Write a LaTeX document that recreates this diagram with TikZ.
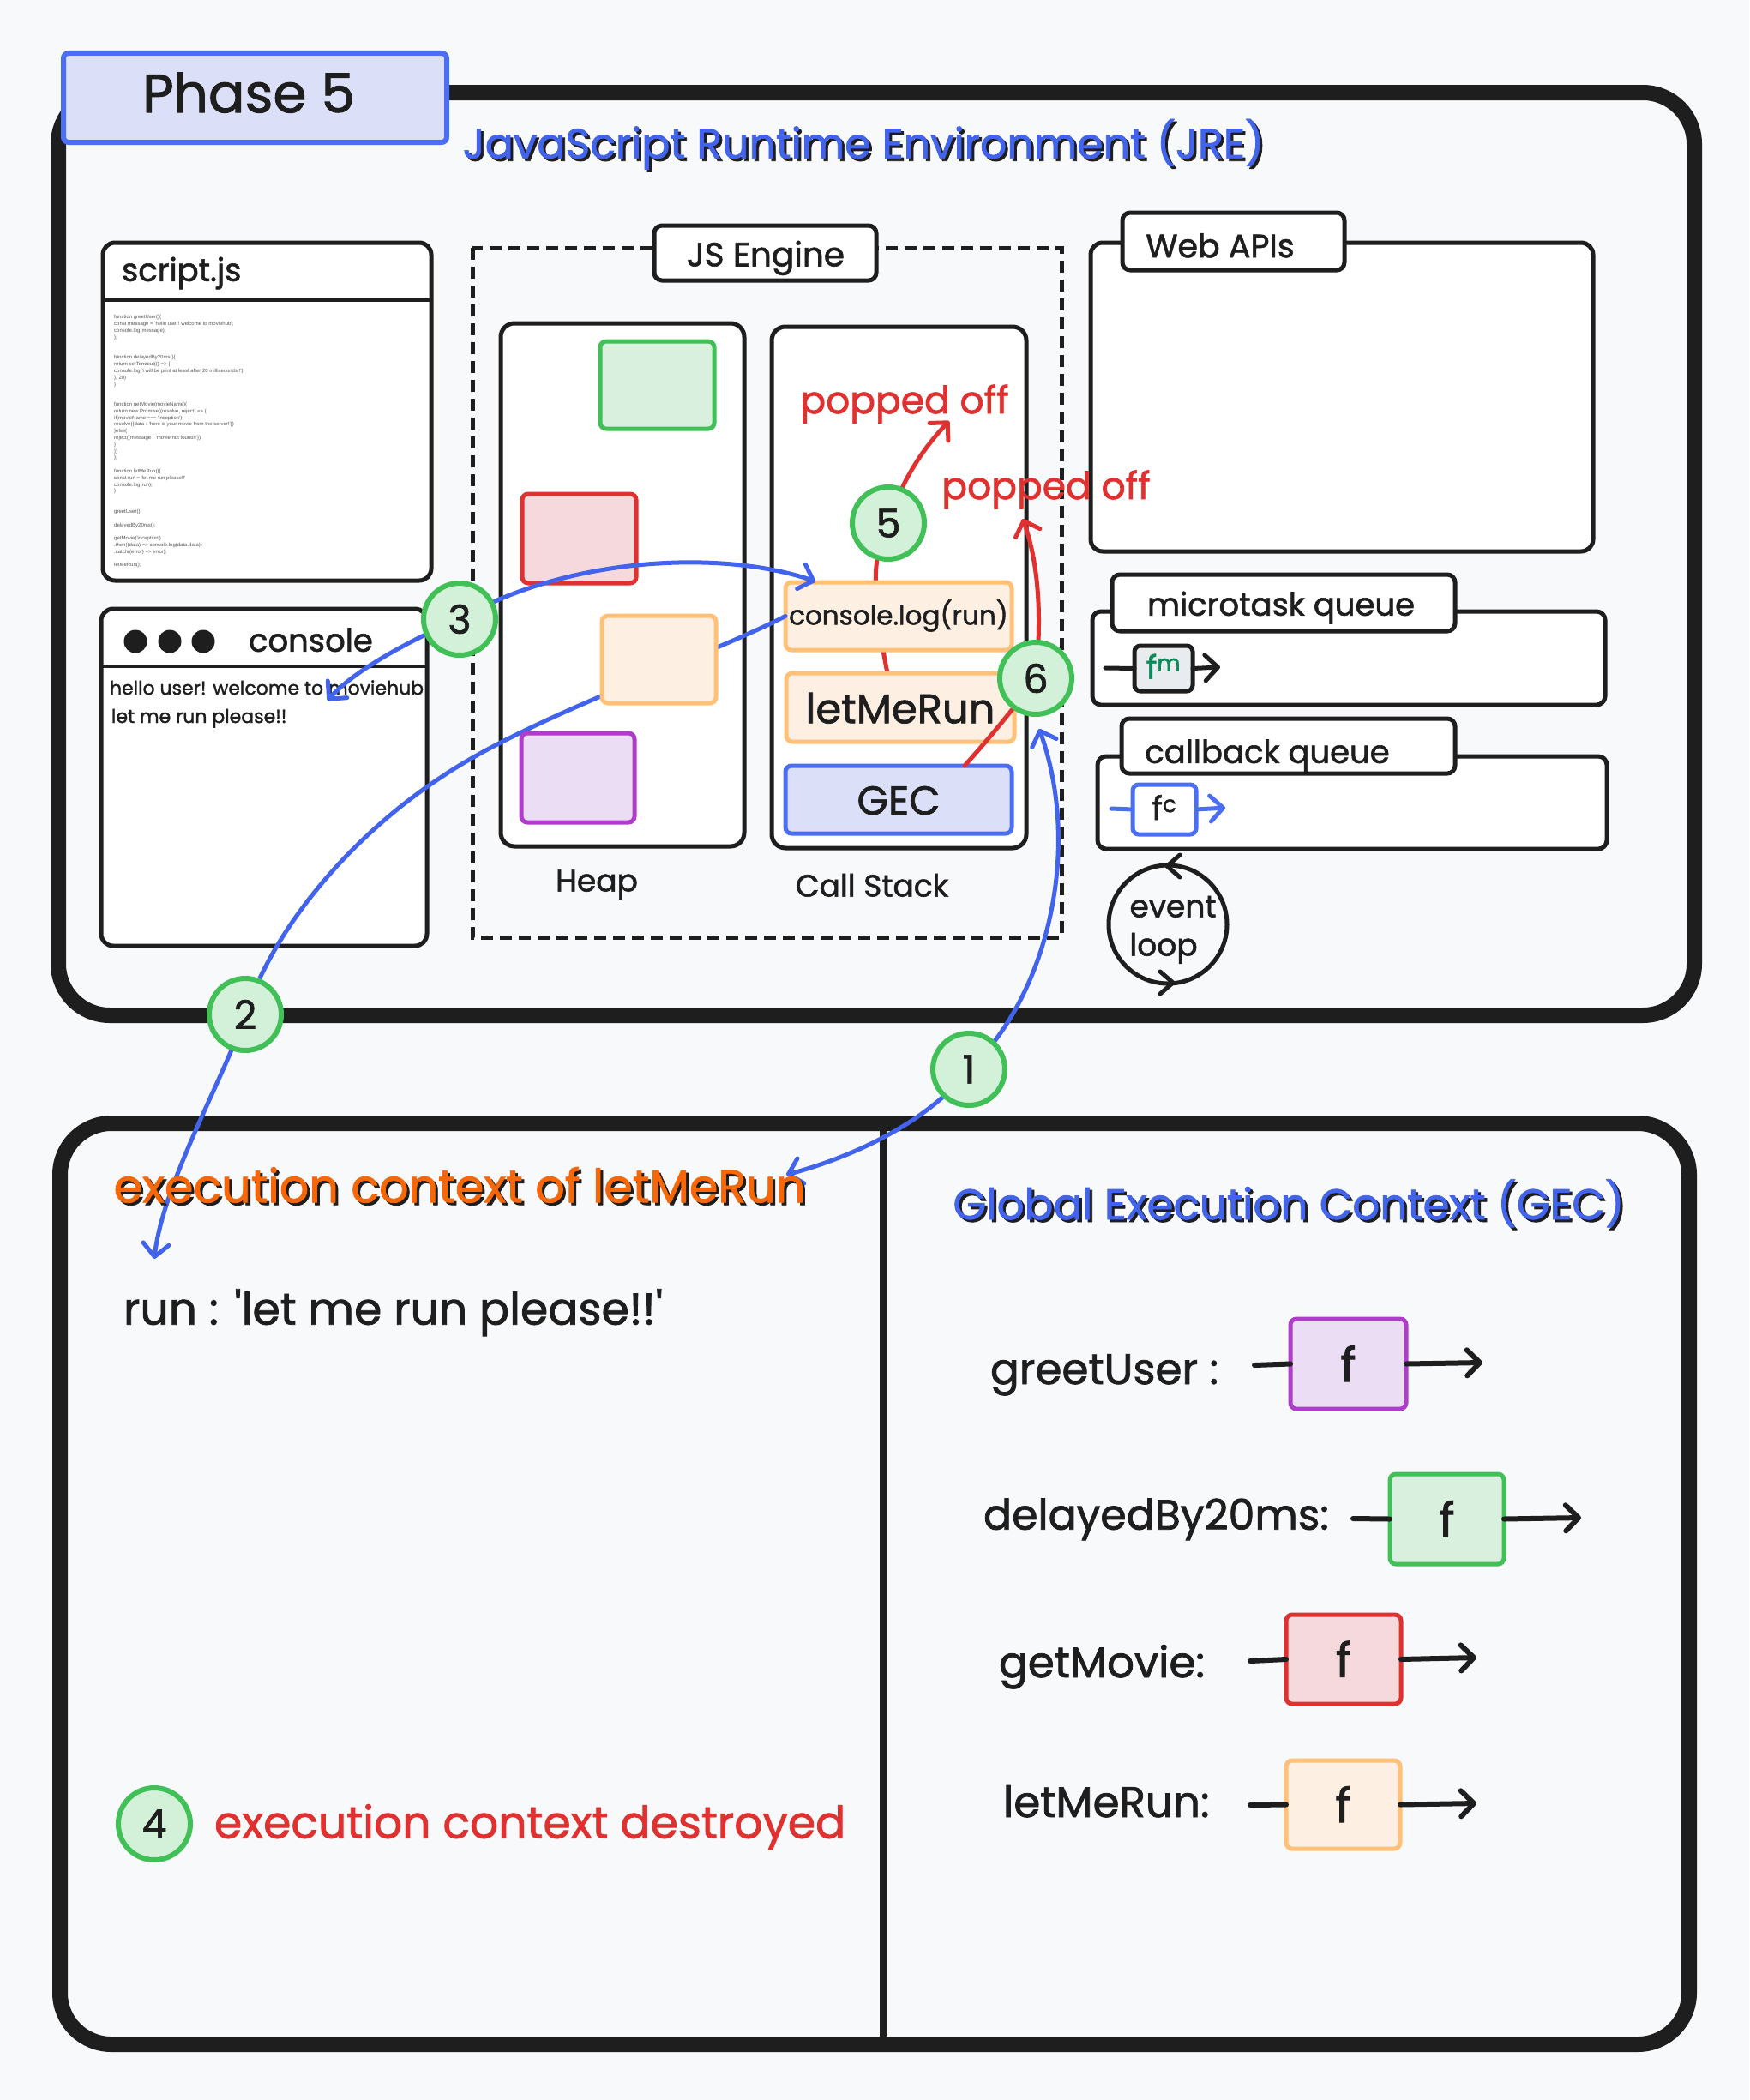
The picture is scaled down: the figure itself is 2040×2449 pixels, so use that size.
\documentclass[tikz,border=0pt]{standalone}
\usepackage{fontspec}
\setmainfont{Poppins}[FakeBold=1.5]
\newfontfamily\codefont{Liberation Sans}
\usetikzlibrary{arrows.meta,calc}
\newcommand\fsz[1]{\fontsize{#1pt}{#1pt}\selectfont}
\definecolor{bg}{HTML}{F8F9FB}
\definecolor{ink}{HTML}{1E1E1E}
\definecolor{jblue}{HTML}{4263EB}
\definecolor{gecF}{HTML}{DBE0F8}
\definecolor{gecS}{HTML}{4C6EF5}
\definecolor{grn}{HTML}{40C057}
\definecolor{grnF}{HTML}{D3F0D9}
\definecolor{hgF}{HTML}{DAF0DE}
\definecolor{redS}{HTML}{E03131}
\definecolor{redF}{HTML}{F5D9DC}
\definecolor{orS}{HTML}{FFC078}
\definecolor{orF}{HTML}{FDF0E3}
\definecolor{puS}{HTML}{AE3EC9}
\definecolor{puF}{HTML}{EBDDF3}
\definecolor{orT}{HTML}{F76707}
\definecolor{tealT}{HTML}{0C8A5A}
\definecolor{mgray}{HTML}{E9ECEF}
\definecolor{codeT}{HTML}{555555}
\begin{document}
\begin{tikzpicture}[x=1pt,y=-1pt,
  lab/.style={inner sep=0pt,outer sep=0pt,anchor=base,text=ink,font=\fsz{#1},yshift={-0.32*#1*1pt}},
  labw/.style={inner sep=0pt,outer sep=0pt,anchor=base west,text=ink,font=\fsz{#1},yshift={-0.32*#1*1pt}},
  box/.style={anchor=north west,inner sep=0pt,outer sep=0pt},
  panel/.style={box,draw=ink,fill=white,line width=5pt,rounded corners=14pt},
  cbox/.style={box,line width=5pt,rounded corners=7pt},
  num/.style={circle,draw=grn,fill=grnF,line width=6pt,minimum size=84pt,inner sep=0pt,font=\fsz{46},text=ink},
  barb/.style={-{Straight Barb[length=15pt,width=30pt,round]}},
  dbarb/.style={{Straight Barb[length=15pt,width=30pt,round]}-{Straight Barb[length=15pt,width=30pt,round]}},
  bluearrow/.style={draw=jblue,line width=5pt,line cap=round},
  redarrow/.style={draw=redS,line width=5pt,line cap=round},
  blk/.style={draw=ink,line width=6pt,line cap=round}]
\useasboundingbox (0,0) rectangle (2040,2449);
\fill[bg] (0,0) rectangle (2040,2449);

% ---------- circle positions
\coordinate (p1) at (1130,1247);
\coordinate (p2) at (286,1183);
\coordinate (p3) at (536,722);
\coordinate (p4) at (180,2127);
\coordinate (p5) at (1036,610);
\coordinate (p6) at (1208,791);

% ---------- outer frames
\draw[ink,line width=18pt,rounded corners=60pt] (68,108) rectangle (1976,1184);
\draw[ink,line width=18pt,rounded corners=60pt] (70,1310) rectangle (1970,2384);
\draw[ink,line width=8pt] (1030,1310) -- (1030,2384);

% ---------- titles
\node[box,draw=gecS,fill=gecF,line width=6pt,rounded corners=6pt,minimum width=447pt,minimum height=104pt] (phase) at (74,62) {};
\node[lab=63] (phaseT) at (290,111) {Phase 5};
\node[lab=49] (jreS) at (1010,172) {JavaScript Runtime Environment (JRE)};
\node[lab=49,text=jblue] (jre) at (1007,169) {JavaScript Runtime Environment (JRE)};

% ---------- script.js
\node[panel,minimum width=383pt,minimum height=394pt] (script) at (120,283) {};
\draw[ink,line width=4pt] (script.north west |- 0,350) -- (script.north east |- 0,350);
\node[labw=37] (scriptT) at (142,316) {script.js};
\foreach \yy/\codeline in {370/{function greetUser()\{},
378/{const message = \textquotesingle hello user! welcome to moviehub\textquotesingle;},
386/{console.log(message);},
394/{\};},
417/{function delayedBy20ms()\{},
425/{return setTimeout(() => \{},
433/{console.log(\textquotesingle i will be print at least after 20 milliseconds!!\textquotesingle)},
441/{\}, 20)},
449/{\}},
472/{function getMovie(movieName)\{},
480/{return new Promise((resolve, reject) => \{},
488/{if(movieName === \textquotesingle inception\textquotesingle)\{},
495/{resolve(\{data : \textquotesingle here is your movie from the server!\textquotesingle\})},
503/{\}else\{},
511/{reject(\{message : \textquotesingle movie not found!!\textquotesingle\})},
519/{\}},
527/{\})},
534/{\};},
550/{function letMeRun()\{},
558/{const run = \textquotesingle let me run please!!\textquotesingle},
566/{console.log(run);},
573/{\}},
597/{greetUser();},
613/{delayedBy20ms();},
628/{getMovie(\textquotesingle inception\textquotesingle)},
636/{.then((data) => console.log(data.data))},
644/{.catch((error) => error);},
659/{letMeRun();}}
  \node[inner sep=0pt,anchor=west,font=\codefont\fsz{6},text=codeT] at (133,\yy) {\codeline};

% ---------- console
\node[panel,minimum width=380pt,minimum height=393pt] (console) at (118,710) {};
\draw[ink,line width=4pt] (console.north west |- 0,777) -- (console.north east |- 0,777);
\foreach \xx/\nm in {158/d1,198/d2,237/d3}
  \node[circle,fill=ink,minimum size=27pt,inner sep=0pt] (\nm) at (\xx,748) {};
\node[labw=37] (consoleT) at (290,748) {console};
\node[labw=22] (out1) at (128,803) {hello user! welcome to moviehub};
\node[labw=22] (out2) at (130,836) {let me run please!!};

% ---------- JS engine
\draw[ink,line width=5pt,dash pattern=on 14pt off 8pt] (551,289) rectangle (1238,1093);
\node[panel,rounded corners=9pt,minimum width=259pt,minimum height=64pt] (jstab) at (763,263) {};
\node[lab=39] (jsT) at (893,298) {JS Engine};
\node[panel,rounded corners=16pt,minimum width=284pt,minimum height=610pt] (heap) at (584,377) {};
\node[panel,rounded corners=16pt,minimum width=297pt,minimum height=608pt] (stack) at (900,381) {};
\node[lab=36] (heapT) at (696,1028) {Heap};
\node[lab=36] (stackT) at (1017,1034) {Call Stack};

% ---------- Web APIs and queues
\node[panel,minimum width=586pt,minimum height=360pt] (web) at (1272,283) {};
\node[panel,rounded corners=9pt,minimum width=259pt,minimum height=67pt] (webtab) at (1309,248) {};
\node[lab=38] (webT) at (1423,288) {Web APIs};
\node[panel,rounded corners=10pt,minimum width=598pt,minimum height=109pt] (micro) at (1274,713) {};
\node[panel,rounded corners=9pt,minimum width=400pt,minimum height=66pt] (microtab) at (1297,670) {};
\node[lab=37] (microT) at (1494,706) {microtask queue};
\node[panel,rounded corners=10pt,minimum width=594pt,minimum height=108pt] (cb) at (1280,882) {};
\node[panel,rounded corners=9pt,minimum width=389pt,minimum height=64pt] (cbtab) at (1308,838) {};
\node[lab=37] (cbT) at (1478,878) {callback queue};
\node[cbox,draw=ink,fill=mgray,minimum width=68pt,minimum height=53pt] (fm) at (1323,753) {};
\node[lab=38,text=tealT] (fmT) at (fm.center) {f\textsuperscript{m}};
\coordinate (fm0) at (1289,779);
\coordinate (fm1) at (1423,778);
\draw[blk,line width=5pt] (fm0) -- (fm.west);
\draw[blk,line width=5pt,barb] (fm.east) -- (fm1);
\node[cbox,draw=gecS,fill=white,minimum width=74pt,minimum height=58pt] (fc) at (1321,915) {};
\node[lab=38] (fcT) at (fc.center) {f\textsuperscript{c}};
\coordinate (fc0) at (1296,943);
\coordinate (fc1) at (1429,942);
\draw[bluearrow,draw=gecS] (fc0) -- (fc.west);
\draw[bluearrow,draw=gecS,barb] (fc.east) -- (fc1);
\node[circle,draw=ink,line width=5pt,minimum size=138pt,inner sep=0pt] (evl) at (1362,1078) {};
\node[lab=36] (evT1) at (1368,1058) {event};
\node[lab=36] (evT2) at (1357,1103) {loop};
\draw[ink,line width=5pt,line cap=round,line join=round] (1376,997) -- (1361,1010) -- (1376,1023);
\draw[ink,line width=5pt,line cap=round,line join=round] (1353,1133) -- (1368,1146) -- (1353,1159);

% ---------- red arrow A (behind stack frames)
\coordinate (ra0) at (1035,785);
\coordinate (ra1) at (1107,491);
\draw[redarrow,barb] (ra0) .. controls (1018,700) and (1015,650) .. (p5)
   .. controls (1052,560) and (1075,525) .. (ra1);

% ---------- stack frames
\node[cbox,draw=orS,fill=orF,minimum width=264pt,minimum height=79pt] (clog) at (916,679) {};
\node[lab=31] (clogT) at (clog.center) {console.log(run)};
\node[cbox,draw=orS,fill=orF,minimum width=266pt,minimum height=80pt] (lmr) at (917,785) {};
\node[lab=48] (lmrT) at (1050,828) {letMeRun};
\node[cbox,draw=gecS,fill=gecF,minimum width=264pt,minimum height=79pt] (gec) at (916,893) {};
\node[lab=47] (gecT) at (1048,935) {GEC};

% ---------- long blue arrow (behind heap boxes)
\coordinate (a2e) at (180,1468);
\draw[bluearrow,barb] (clog.west) .. controls (820,768) and (620,835) .. (515,906)
   .. controls (410,975) and (320,1080) .. (p2)
   .. controls (262,1256) and (190,1380) .. (a2e);

% ---------- heap boxes
\node[cbox,draw=grn,fill=hgF,minimum width=133pt,minimum height=102pt] (hG) at (700,398) {};
\node[cbox,draw=redS,fill=redF,minimum width=133pt,minimum height=104pt] (hR) at (609,576) {};
\node[cbox,draw=orS,fill=orF,minimum width=133pt,minimum height=102pt] (hO) at (702,718) {};
\node[cbox,draw=puS,fill=puF,minimum width=132pt,minimum height=104pt] (hP) at (608,855) {};

% ---------- red arrow B
\coordinate (rb0) at (1125,893);
\coordinate (rb1) at (1193,605);
\draw[redarrow,barb] (rb0) .. controls (1150,865) and (1180,830) .. (p6)
   .. controls (1215,720) and (1212,660) .. (rb1);

% ---------- blue arrows from 3 and 1
\coordinate (a3a) at (951,678);
\coordinate (a3b) at (382,817);
\draw[bluearrow,barb] (p3) .. controls (660,650) and (840,640) .. (a3a);
\draw[bluearrow,barb] (p3) .. controls (470,750) and (410,785) .. (a3b);
\coordinate (a1s) at (917,1370);
\coordinate (a1e) at (1212,850);
\draw[bluearrow,dbarb] (a1s) .. controls (1010,1345) and (1090,1300) .. (p1)
   .. controls (1215,1170) and (1265,1000) .. (a1e);

% ---------- popped off labels
\node[lab=44,text=redS] (pop1) at (1055,468) {popped off};
\node[lab=44,text=redS] (pop2) at (1220,568) {popped off};

% ---------- step circles
\node[num] (c1) at (p1) {1};
\node[num] (c2) at (p2) {2};
\node[num] (c3) at (p3) {3};
\node[num] (c4) at (p4) {4};
\node[num] (c5) at (p5) {5};
\node[num] (c6) at (p6) {6};

% ---------- bottom left
\node[lab=54] (ecS) at (539,1388) {execution context of letMeRun};
\node[lab=54,text=orT] (ec) at (536,1385) {execution context of letMeRun};
\node[labw=52] (runT) at (144,1528) {run : \textquotesingle let me run please!!\textquotesingle};
\node[labw=52,text=redS] (destr) at (250,2127) {execution context destroyed};

% ---------- bottom right: GEC memory
\node[lab=50] (gtS) at (1506,1409) {Global Execution Context (GEC)};
\node[lab=50,text=jblue] (gt) at (1503,1406) {Global Execution Context (GEC)};

\node[labw=50] (lg) at (1155,1598) {greetUser :};
\node[cbox,draw=puS,fill=puF,minimum width=135pt,minimum height=105pt] (fg) at (1505,1538) {};
\node[lab=55,yshift=-3pt] (fgT) at (fg.center) {f};
\coordinate (g0) at (1463,1592);
\coordinate (g1) at (1729,1589);
\draw[blk] (g0) -- (fg.west);
\draw[blk,barb] (fg.east) -- (g1);

\node[labw=49] (ld) at (1147,1768) {delayedBy20ms:};
\node[cbox,draw=grn,fill=hgF,minimum width=133pt,minimum height=105pt] (fd) at (1621,1719) {};
\node[lab=55,yshift=-3pt] (fdT) at (fd.center) {f};
\coordinate (d0) at (1578,1771);
\coordinate (d1) at (1844,1770);
\draw[blk] (d0) -- (fd.west);
\draw[blk,barb] (fd.east) -- (d1);

\node[labw=50] (lm) at (1165,1940) {getMovie:};
\node[cbox,draw=redS,fill=redF,minimum width=134pt,minimum height=104pt] (fgm) at (1500,1883) {};
\node[lab=55,yshift=-3pt] (fgmT) at (fgm.center) {f};
\coordinate (m0) at (1458,1937);
\coordinate (m1) at (1722,1933);
\draw[blk] (m0) -- (fgm.west);
\draw[blk,barb] (fgm.east) -- (m1);

\node[labw=50] (ll) at (1170,2103) {letMeRun:};
\node[cbox,draw=orS,fill=orF,minimum width=133pt,minimum height=103pt] (fl) at (1500,2053) {};
\node[lab=55,yshift=-3pt] (flT) at (fl.center) {f};
\coordinate (l0) at (1458,2105);
\coordinate (l1) at (1722,2103);
\draw[blk] (l0) -- (fl.west);
\draw[blk,barb] (fl.east) -- (l1);
\end{tikzpicture}
\end{document}
